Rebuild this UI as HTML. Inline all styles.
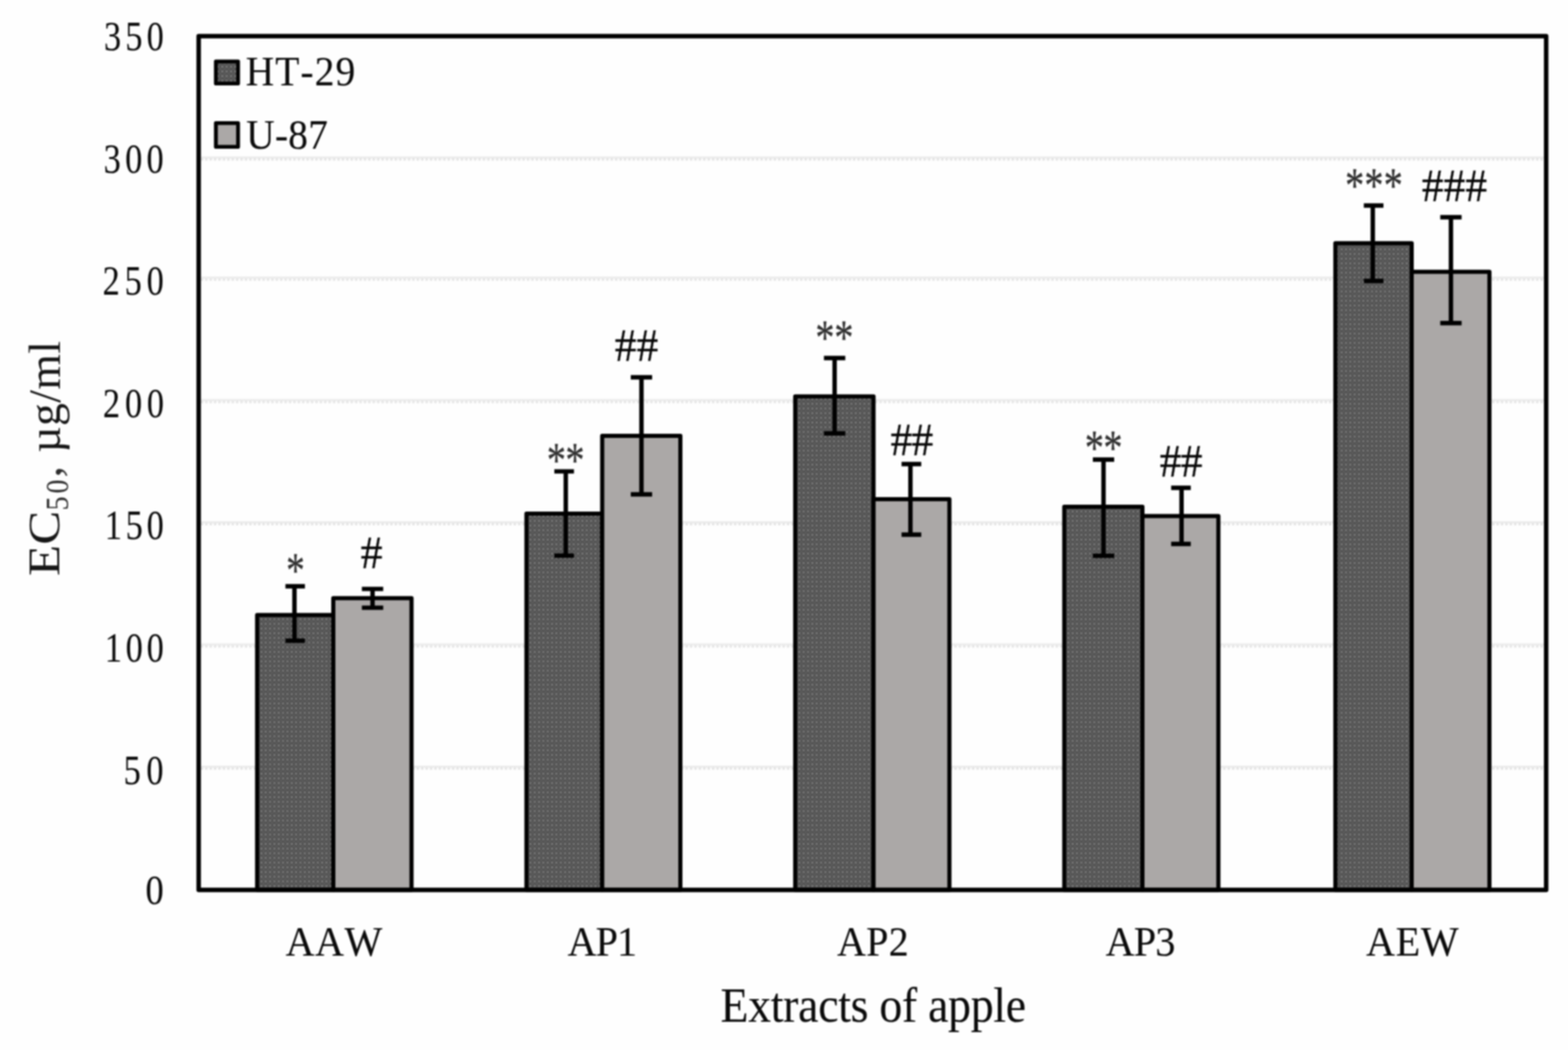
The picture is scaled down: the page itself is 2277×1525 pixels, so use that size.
<!DOCTYPE html>
<html lang="en"><head><meta charset="utf-8">
<title>EC50 of apple extracts in HT-29 and U-87 cells</title>
<style>
html,body{margin:0;padding:0;background:#fefefe;}
body{width:2277px;height:1525px;overflow:hidden;}
svg{display:block;}
text{font-family:"Liberation Serif", serif;fill:#0a0a0a;stroke:#0a0a0a;stroke-width:0.15px;stroke-linejoin:round;font-kerning:none;white-space:pre;}
.bar{stroke:#000;stroke-width:6;stroke-linejoin:round;}
.err{stroke:#000;stroke-width:6.4;fill:none;stroke-linecap:butt;}
.g1{stroke:#ebebeb;stroke-width:3;}
.g2{stroke:#e3e3e3;stroke-width:3.4;stroke-dasharray:3.4 3;}
.rot{stroke:none;fill:#161616;}
.sub{stroke:none;fill:#2c2c2c;}
.sym{fill:#050505;stroke:#050505;stroke-width:0.3px;}
.ast{fill:#303030;stroke:#303030;stroke-width:0.3px;}
</style></head><body>
<svg width="2277" height="1525" viewBox="0 0 2277 1525" role="img" aria-label="Bar chart of EC50 values for apple extracts in HT-29 and U-87 cells">
<defs>
<pattern id="dots" width="6.3" height="6.8" patternUnits="userSpaceOnUse">
<rect width="6.3" height="6.8" fill="#545454"/>
<circle cx="1.6" cy="1.7" r="1.3" fill="#8c8c8c"/>
<circle cx="4.75" cy="5.1" r="1.0" fill="#686868"/>
</pattern>
<filter id="soft" x="-1%" y="-1%" width="102%" height="102%" color-interpolation-filters="sRGB"><feGaussianBlur stdDeviation="1.0"/></filter>
</defs>
<rect x="0" y="0" width="2277" height="1525" fill="#fefefe"/>
<g filter="url(#soft)">
<rect x="-20" y="-20" width="2317" height="1565" fill="#fefefe"/>
<g class="grid">
<line class="g1" x1="291.5" y1="228.7" x2="2242.3" y2="228.7"/>
<line class="g2" x1="291.5" y1="231.5" x2="2242.3" y2="231.5"/>
<line class="g1" x1="291.5" y1="403.3" x2="2242.3" y2="403.3"/>
<line class="g2" x1="291.5" y1="406.1" x2="2242.3" y2="406.1"/>
<line class="g1" x1="291.5" y1="581.1" x2="2242.3" y2="581.1"/>
<line class="g2" x1="291.5" y1="583.9" x2="2242.3" y2="583.9"/>
<line class="g1" x1="291.5" y1="758.4" x2="2242.3" y2="758.4"/>
<line class="g2" x1="291.5" y1="761.2" x2="2242.3" y2="761.2"/>
<line class="g1" x1="291.5" y1="936.1" x2="2242.3" y2="936.1"/>
<line class="g2" x1="291.5" y1="938.9" x2="2242.3" y2="938.9"/>
<line class="g1" x1="291.5" y1="1113.4" x2="2242.3" y2="1113.4"/>
<line class="g2" x1="291.5" y1="1116.2" x2="2242.3" y2="1116.2"/>
</g>
<rect class="bar" x="373.4" y="893.2" width="110.6" height="399.3" fill="url(#dots)"/>
<rect class="bar" x="484.0" y="868.8" width="113.6" height="423.7" fill="#aba8a7"/>
<rect class="bar" x="764.5" y="746.0" width="110.0" height="546.5" fill="url(#dots)"/>
<rect class="bar" x="874.5" y="633.0" width="113.5" height="659.5" fill="#aba8a7"/>
<rect class="bar" x="1154.8" y="575.7" width="113.7" height="716.8" fill="url(#dots)"/>
<rect class="bar" x="1268.5" y="725.0" width="110.2" height="567.5" fill="#aba8a7"/>
<rect class="bar" x="1545.5" y="736.0" width="113.5" height="556.5" fill="url(#dots)"/>
<rect class="bar" x="1659.0" y="749.4" width="110.3" height="543.1" fill="#aba8a7"/>
<rect class="bar" x="1939.2" y="353.3" width="110.8" height="939.2" fill="url(#dots)"/>
<rect class="bar" x="2050.0" y="394.8" width="112.9" height="897.7" fill="#aba8a7"/>
<path class="err" d="M414.5 851.5H442.8M414.5 930.5H442.8M427.6 851.5V930.5"/>
<path class="err" d="M525.5 855.4H556.5M525.5 882.6H556.5M541.0 855.4V882.6"/>
<path class="err" d="M805.0 684.6H833.5M805.0 807.0H833.5M821.6 684.6V807.0"/>
<path class="err" d="M916.0 548.0H947.0M916.0 718.0H947.0M931.5 548.0V718.0"/>
<path class="err" d="M1196.5 520.0H1227.5M1196.5 629.5H1227.5M1212.0 520.0V629.5"/>
<path class="err" d="M1309.2 674.0H1337.8M1309.2 776.5H1337.8M1322.1 674.0V776.5"/>
<path class="err" d="M1587.0 667.5H1618.0M1587.0 807.3H1618.0M1602.5 667.5V807.3"/>
<path class="err" d="M1700.7 708.5H1729.2M1700.7 790.0H1729.2M1715.8 708.5V790.0"/>
<path class="err" d="M1980.5 298.5H2009.0M1980.5 408.0H2009.0M1993.5 298.5V408.0"/>
<path class="err" d="M2091.5 315.5H2122.5M2091.5 469.3H2122.5M2107.0 315.5V469.3"/>
<rect x="288.5" y="52.6" width="1956.8" height="1239.9" fill="none" stroke="#000" stroke-width="6.5" stroke-linejoin="round"/>
<rect class="bar" x="313.5" y="89.2" width="32.2" height="32.0" fill="url(#dots)" style="stroke-width:5.6"/>
<rect class="bar" x="313.5" y="178.8" width="32.2" height="34.4" fill="#aba8a7" style="stroke-width:5.6"/>
<text transform="translate(356.65 123.89) scale(0.9550 1.0360)" style="font-size:60px;letter-spacing:1.685px;">HT-29</text>
<text transform="translate(357.60 216.19) scale(0.9550 1.0360)" style="font-size:60px;letter-spacing:0.277px;">U-87</text>
<text transform="translate(151.12 72.55) scale(0.8300 1.0160)" style="font-size:60px;letter-spacing:7.277px;">350</text>
<text transform="translate(150.62 250.95) scale(0.8300 1.0160)" style="font-size:60px;letter-spacing:7.458px;">300</text>
<text transform="translate(149.01 427.95) scale(0.8300 1.0160)" style="font-size:60px;letter-spacing:8.485px;">250</text>
<text transform="translate(149.61 605.55) scale(0.8300 1.0160)" style="font-size:60px;letter-spacing:8.304px;">200</text>
<text transform="translate(152.32 783.25) scale(0.8300 1.0160)" style="font-size:60px;letter-spacing:6.490px;">150</text>
<text transform="translate(152.32 960.85) scale(0.8300 1.0160)" style="font-size:60px;letter-spacing:6.490px;">100</text>
<text transform="translate(179.51 1139.05) scale(0.8300 1.0160)" style="font-size:60px;letter-spacing:9.868px;">50</text>
<text transform="translate(211.28 1313.25) scale(0.8848 1.0160)" style="font-size:60px;">0</text>
<text transform="translate(414.83 1387.85) scale(0.9700 1.0220)" style="font-size:60px;letter-spacing:0.665px;">AAW</text>
<text transform="translate(824.23 1387.85) scale(0.9700 1.0220)" style="font-size:60px;letter-spacing:-1.358px;">AP1</text>
<text transform="translate(1215.43 1387.85) scale(0.9700 1.0220)" style="font-size:60px;letter-spacing:0.351px;">AP2</text>
<text transform="translate(1605.53 1387.85) scale(0.9700 1.0220)" style="font-size:60px;letter-spacing:-1.060px;">AP3</text>
<text transform="translate(1983.73 1387.85) scale(0.9700 1.0220)" style="font-size:60px;letter-spacing:1.015px;">AEW</text>
<text transform="translate(415.55 851.78) scale(0.9050 1.1908)" style="font-size:60px;" class="ast">*</text>
<text transform="translate(523.65 824.90) scale(1.0599 1.1327)" style="font-size:60px;" class="sym">#</text>
<text transform="translate(793.88 691.58) scale(0.9300 1.1908)" style="font-size:60px;letter-spacing:-0.758px;" class="ast">**</text>
<text transform="translate(892.86 524.30) scale(1.0500 1.1276)" style="font-size:60px;letter-spacing:0.073px;" class="sym">##</text>
<text transform="translate(1183.88 514.12) scale(0.9300 1.2044)" style="font-size:60px;letter-spacing:-0.221px;" class="ast">**</text>
<text transform="translate(1293.26 660.50) scale(1.0500 1.1251)" style="font-size:60px;letter-spacing:-0.880px;" class="sym">##</text>
<text transform="translate(1575.18 674.12) scale(0.9300 1.2044)" style="font-size:60px;letter-spacing:-0.758px;" class="ast">**</text>
<text transform="translate(1684.06 691.80) scale(1.0500 1.1276)" style="font-size:60px;letter-spacing:-0.689px;" class="sym">##</text>
<text transform="translate(1953.28 292.52) scale(0.9300 1.2044)" style="font-size:60px;letter-spacing:0.158px;" class="ast">***</text>
<text transform="translate(2064.86 292.30) scale(1.0500 1.1327)" style="font-size:60px;letter-spacing:0.084px;" class="sym">###</text>
<text transform="translate(1046.28 1483.70) scale(0.9850 1.0650)" style="font-size:67.5px;letter-spacing:-0.420px;">Extracts of apple</text>
<text class="rot" transform="translate(86.50 836.75) rotate(-90)"><tspan class="rot" x="0.00" y="-0.34" textLength="95.17" lengthAdjust="spacingAndGlyphs" style="font-size:65.14px;">EC</tspan><tspan class="sub" x="95.40" y="12.55" textLength="49.09" lengthAdjust="spacingAndGlyphs" style="font-size:46.24px;letter-spacing:4.90px;">50</tspan><tspan class="sub" x="143.32" y="1.36" textLength="33.24" lengthAdjust="spacingAndGlyphs" style="font-size:64.63px;">, </tspan><tspan class="rot" x="179.31" y="0.34" textLength="162.69" lengthAdjust="spacingAndGlyphs" style="font-size:65.14px;letter-spacing:0.50px;">µg/ml</tspan></text>
</g>
</svg>
</body></html>
